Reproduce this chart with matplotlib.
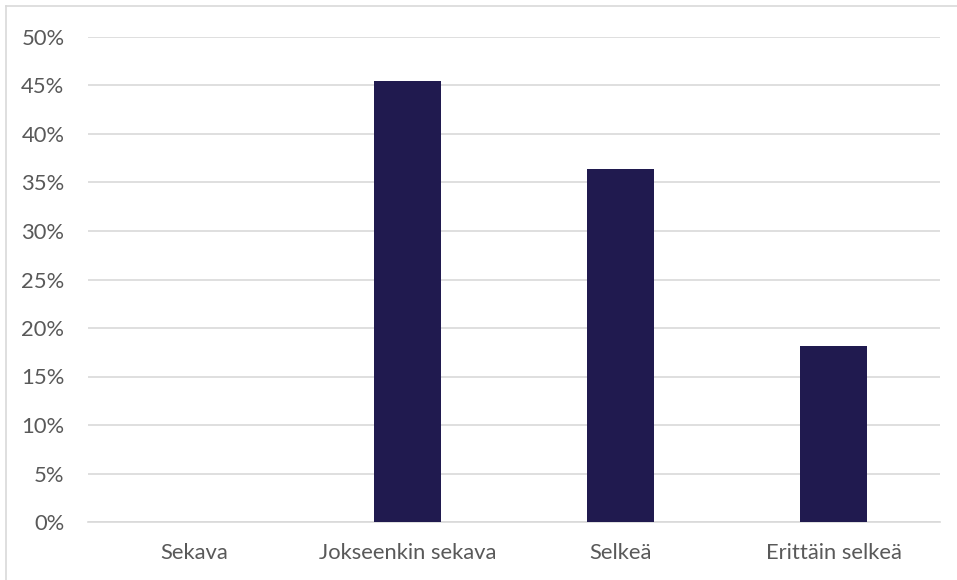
import matplotlib.pyplot as plt
from matplotlib.lines import Line2D
from matplotlib.ticker import MultipleLocator, PercentFormatter

# Vastausten jakauma
luokat = ['Sekava', 'Jokseenkin sekava', 'Selkeä', 'Erittäin selkeä']
osuudet = [0.0, 45.45, 36.36, 18.18]

plt.rcParams['font.family'] = ['Lato', 'DejaVu Sans']

fig = plt.figure(figsize=(9.57, 5.8), dpi=100)
ax = fig.add_axes([88 / 957, 1 - 522 / 580, (940 - 88) / 957, (522 - 37) / 580])

x = range(len(luokat))
ax.bar(x, osuudet, width=0.315, color='#201a4f', zorder=3)

ax.set_xlim(-0.5, len(luokat) - 0.5)
ax.set_ylim(0, 50)
ax.yaxis.set_major_locator(MultipleLocator(5))
ax.yaxis.set_major_formatter(PercentFormatter(decimals=0))
ax.set_xticks(list(x))
ax.set_xticklabels(luokat)

ax.grid(axis='y', color='#d9d9d9', linewidth=1.2, zorder=0)
for s in ['top', 'right', 'left']:
    ax.spines[s].set_visible(False)
ax.spines['bottom'].set_color('#d9d9d9')
ax.spines['bottom'].set_linewidth(1.2)
ax.tick_params(axis='both', length=0, labelsize=15.8, colors='#595959')
ax.tick_params(axis='y', pad=17)
ax.tick_params(axis='x', pad=15)

# kehys kuvan ympärillä
fig.add_artist(Line2D([5.5 / 957, 5.5 / 957], [0, 1 - 5.5 / 580], color='#d9d9d9', lw=1.2))
fig.add_artist(Line2D([5.5 / 957, 1], [1 - 5.5 / 580, 1 - 5.5 / 580], color='#d9d9d9', lw=1.2))

fig.savefig('out.png', dpi=100)
